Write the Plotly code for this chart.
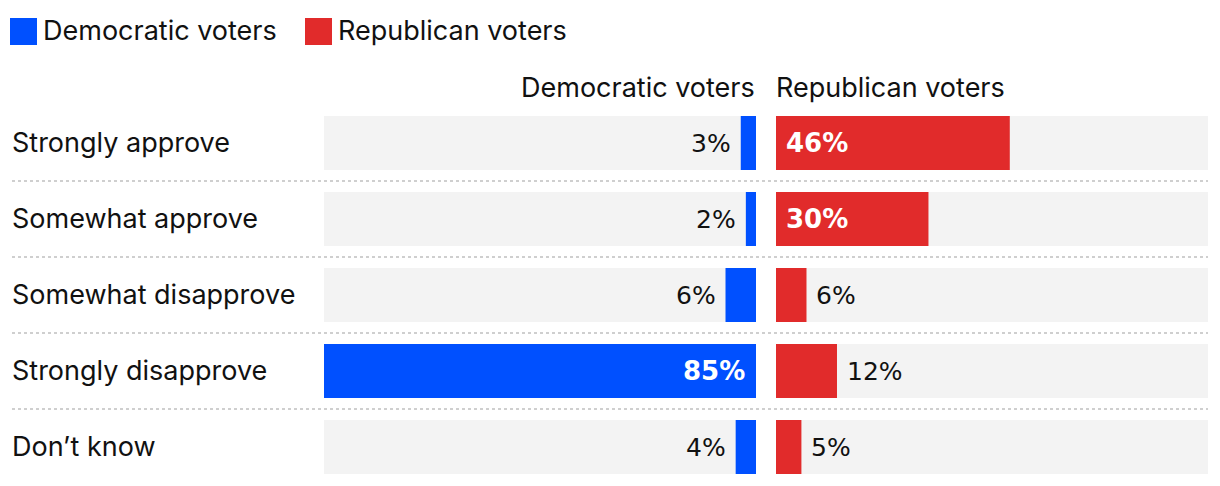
import plotly.graph_objects as go

categories = ["Strongly approve", "Somewhat approve", "Somewhat disapprove",
              "Strongly disapprove", "Don\u2019t know"]
dem_values = [3, 2, 6, 85, 4]
rep_values = [46, 30, 6, 12, 5]
series_names = ["Democratic voters", "Republican voters"]
axis_max = 85

W, H = 1220, 486
BLUE = "#0050FF"
RED = "#E12B2B"
TRACK = "#F3F3F3"
LABEL_FONT = "Inter, Liberation Sans, sans-serif"
VALUE_FONT = "DejaVu Sans, sans-serif"
LABEL_SIZE = 27
VALUE_SIZE = 25
BOLD_SIZE = 26

pitch = 76.0
c0 = 143.0
y_top = -c0 / pitch
y_bot = (H - c0) / pitch
ypos = list(range(len(categories)))

fig = go.Figure()
for xa in ["x", "x2"]:
    fig.add_trace(go.Bar(y=ypos, x=[axis_max] * len(categories), orientation="h",
                         marker=dict(color=TRACK, line=dict(width=0)),
                         xaxis=xa, yaxis="y", hoverinfo="skip", showlegend=False))
fig.add_trace(go.Bar(y=ypos, x=dem_values, orientation="h", name=series_names[0],
                     marker=dict(color=BLUE, line=dict(width=0)),
                     xaxis="x", yaxis="y", showlegend=False,
                     customdata=categories,
                     hovertemplate="%{customdata}: %{x}%<extra>Democratic voters</extra>"))
fig.add_trace(go.Bar(y=ypos, x=rep_values, orientation="h", name=series_names[1],
                     marker=dict(color=RED, line=dict(width=0)),
                     xaxis="x2", yaxis="y", showlegend=False,
                     customdata=categories,
                     hovertemplate="%{customdata}: %{x}%<extra>Republican voters</extra>"))

ann = []
shapes = []
threshold = 20
for i, cat in enumerate(categories):
    ann.append(dict(x=10 / W, xref="paper", y=i, yref="y", text=cat, showarrow=False,
                    xanchor="left", yanchor="middle", yshift=1,
                    font=dict(family=LABEL_FONT, size=LABEL_SIZE, color="#111")))
    d = dem_values[i]
    if d >= threshold:
        ann.append(dict(x=0, xref="x", y=i, yref="y", text=f"<b>{d}%</b>",
                        showarrow=False, xanchor="right", xshift=-9, yanchor="middle",
                        font=dict(family=VALUE_FONT, size=BOLD_SIZE, color="white")))
    else:
        ann.append(dict(x=d, xref="x", y=i, yref="y", text=f"{d}%",
                        showarrow=False, xanchor="right", xshift=-8, yanchor="middle",
                        font=dict(family=VALUE_FONT, size=VALUE_SIZE, color="#111")))
    r = rep_values[i]
    if r >= threshold:
        ann.append(dict(x=0, xref="x2", y=i, yref="y", text=f"<b>{r}%</b>",
                        showarrow=False, xanchor="left", xshift=8, yanchor="middle",
                        font=dict(family=VALUE_FONT, size=BOLD_SIZE, color="white")))
    else:
        ann.append(dict(x=r, xref="x2", y=i, yref="y", text=f"{r}%",
                        showarrow=False, xanchor="left", xshift=8, yanchor="middle",
                        font=dict(family=VALUE_FONT, size=VALUE_SIZE, color="#111")))

for i in range(len(categories) - 1):
    shapes.append(dict(type="line", xref="paper", yref="y", x0=12 / W, x1=1208 / W,
                       y0=i + 0.5, y1=i + 0.5,
                       line=dict(color="#CFCFCF", width=2, dash="dot")))

hdr_y = 1 - 87 / H
ann.append(dict(x=757 / W, xref="paper", y=hdr_y, yref="paper", text=series_names[0],
                showarrow=False, xanchor="right", yanchor="middle",
                font=dict(family=LABEL_FONT, size=LABEL_SIZE, color="#111")))
ann.append(dict(x=774 / W, xref="paper", y=hdr_y, yref="paper", text=series_names[1],
                showarrow=False, xanchor="left", yanchor="middle",
                font=dict(family=LABEL_FONT, size=LABEL_SIZE, color="#111")))

leg_y = 1 - 30 / H
for (x0, name, col) in [(10, series_names[0], BLUE), (305, series_names[1], RED)]:
    shapes.append(dict(type="rect", xref="paper", yref="paper",
                       x0=x0 / W, x1=(x0 + 27) / W, y0=1 - 45 / H, y1=1 - 18 / H,
                       fillcolor=col, line=dict(width=0)))
    ann.append(dict(x=(x0 + 31) / W, xref="paper", y=leg_y, yref="paper", text=name,
                    showarrow=False, xanchor="left", yanchor="middle",
                    font=dict(family=LABEL_FONT, size=LABEL_SIZE, color="#111")))

fig.update_layout(
    width=W, height=H,
    margin=dict(l=0, r=0, t=0, b=0),
    paper_bgcolor="white", plot_bgcolor="white",
    barmode="overlay", bargap=1 - 54 / 76,
    xaxis=dict(domain=[324 / W, 756 / W], range=[axis_max, 0], visible=False, fixedrange=True),
    xaxis2=dict(domain=[776 / W, 1208 / W], range=[0, axis_max], visible=False, fixedrange=True),
    yaxis=dict(range=[y_bot, y_top], visible=False, fixedrange=True),
    annotations=ann, shapes=shapes,
    showlegend=False,
)

fig.write_html("out.html", config={"displayModeBar": False},
               post_script="document.body.style.margin='0';")
